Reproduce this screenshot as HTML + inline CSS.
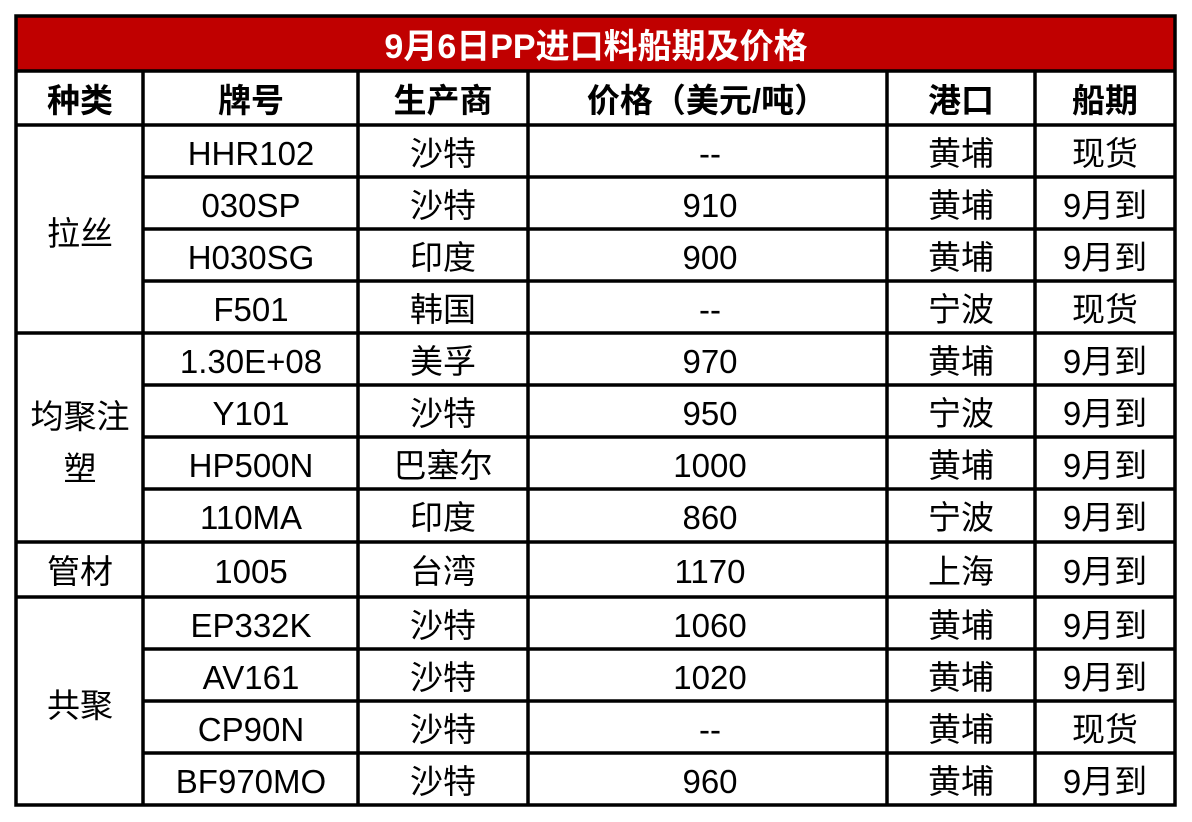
<!DOCTYPE html>
<html><head><meta charset="utf-8"><style>
html,body{margin:0;padding:0;background:#fff;width:1192px;height:822px;overflow:hidden}
svg text{font-family:"Liberation Sans","Noto Sans CJK SC",sans-serif;font-size:33px;fill:#000;text-anchor:middle}
svg .b{font-weight:bold}
svg .t{font-weight:bold;fill:#fff;font-size:34px}
</style></head><body>
<svg width="1192" height="822" xmlns="http://www.w3.org/2000/svg">
<rect x="16" y="16" width="1159" height="55" fill="#c00000"/>
<g transform="translate(0,2)">
<text class="t" x="596" y="56">9月6日PP进口料船期及价格</text>
</g>
<g stroke="#000" stroke-width="3.5" fill="none">
<rect x="16" y="16" width="1159" height="789"/>
<line x1="16" y1="71" x2="1175" y2="71"/>
<line x1="16" y1="125" x2="1175" y2="125"/>
<line x1="16" y1="333" x2="1175" y2="333"/>
<line x1="16" y1="542" x2="1175" y2="542"/>
<line x1="16" y1="597" x2="1175" y2="597"/>
<line x1="143" y1="177" x2="1175" y2="177"/>
<line x1="143" y1="229" x2="1175" y2="229"/>
<line x1="143" y1="281" x2="1175" y2="281"/>
<line x1="143" y1="385" x2="1175" y2="385"/>
<line x1="143" y1="437" x2="1175" y2="437"/>
<line x1="143" y1="489" x2="1175" y2="489"/>
<line x1="143" y1="649" x2="1175" y2="649"/>
<line x1="143" y1="701" x2="1175" y2="701"/>
<line x1="143" y1="753" x2="1175" y2="753"/>
<line x1="143" y1="71" x2="143" y2="805"/>
<line x1="358" y1="71" x2="358" y2="805"/>
<line x1="528" y1="71" x2="528" y2="805"/>
<line x1="887" y1="71" x2="887" y2="805"/>
<line x1="1035" y1="71" x2="1035" y2="805"/>
</g>
<g transform="translate(0,2)">
<text class="b" x="80" y="110">种类</text>
<text class="b" x="251" y="110">牌号</text>
<text class="b" x="443" y="110">生产商</text>
<text class="b" x="707" y="110">价格（美元/吨）</text>
<text class="b" x="961" y="110">港口</text>
<text class="b" x="1105" y="110">船期</text>
<text x="80" y="243">拉丝</text>
<text x="80" y="426">均聚注</text>
<text x="80" y="478">塑</text>
<text x="80" y="581">管材</text>
<text x="80" y="715">共聚</text>
<text x="251" y="163">HHR102</text><text x="443" y="163">沙特</text><text x="710" y="163">--</text><text x="961" y="163">黄埔</text><text x="1105" y="163">现货</text>
<text x="251" y="215">030SP</text><text x="443" y="215">沙特</text><text x="710" y="215">910</text><text x="961" y="215">黄埔</text><text x="1105" y="215">9月到</text>
<text x="251" y="267">H030SG</text><text x="443" y="267">印度</text><text x="710" y="267">900</text><text x="961" y="267">黄埔</text><text x="1105" y="267">9月到</text>
<text x="251" y="319">F501</text><text x="443" y="319">韩国</text><text x="710" y="319">--</text><text x="961" y="319">宁波</text><text x="1105" y="319">现货</text>
<text x="251" y="371">1.30E+08</text><text x="443" y="371">美孚</text><text x="710" y="371">970</text><text x="961" y="371">黄埔</text><text x="1105" y="371">9月到</text>
<text x="251" y="423">Y101</text><text x="443" y="423">沙特</text><text x="710" y="423">950</text><text x="961" y="423">宁波</text><text x="1105" y="423">9月到</text>
<text x="251" y="475">HP500N</text><text x="443" y="475">巴塞尔</text><text x="710" y="475">1000</text><text x="961" y="475">黄埔</text><text x="1105" y="475">9月到</text>
<text x="251" y="527">110MA</text><text x="443" y="527">印度</text><text x="710" y="527">860</text><text x="961" y="527">宁波</text><text x="1105" y="527">9月到</text>
<text x="251" y="581">1005</text><text x="443" y="581">台湾</text><text x="710" y="581">1170</text><text x="961" y="581">上海</text><text x="1105" y="581">9月到</text>
<text x="251" y="635">EP332K</text><text x="443" y="635">沙特</text><text x="710" y="635">1060</text><text x="961" y="635">黄埔</text><text x="1105" y="635">9月到</text>
<text x="251" y="687">AV161</text><text x="443" y="687">沙特</text><text x="710" y="687">1020</text><text x="961" y="687">黄埔</text><text x="1105" y="687">9月到</text>
<text x="251" y="739">CP90N</text><text x="443" y="739">沙特</text><text x="710" y="739">--</text><text x="961" y="739">黄埔</text><text x="1105" y="739">现货</text>
<text x="251" y="791">BF970MO</text><text x="443" y="791">沙特</text><text x="710" y="791">960</text><text x="961" y="791">黄埔</text><text x="1105" y="791">9月到</text>
</g>
</svg>
</body></html>
